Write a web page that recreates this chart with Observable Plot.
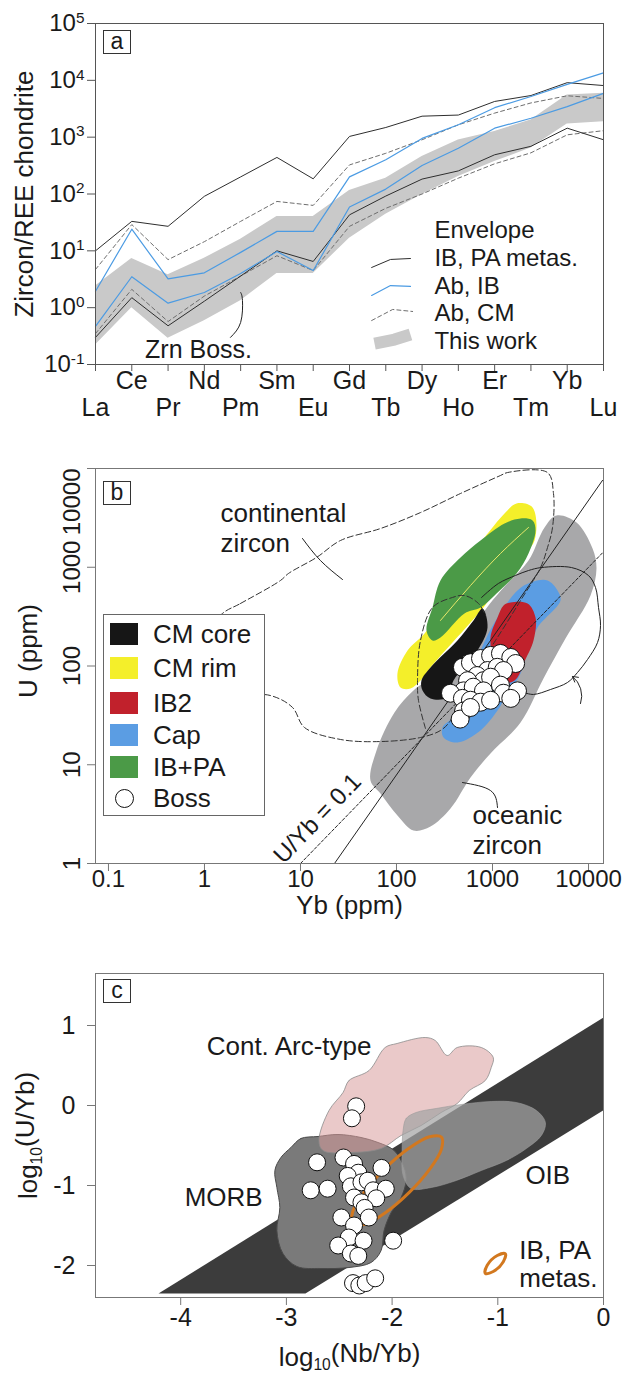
<!DOCTYPE html>
<html><head><meta charset="utf-8">
<script src="https://cdn.jsdelivr.net/npm/d3@7"></script>
<script src="https://cdn.jsdelivr.net/npm/@observablehq/plot@0.6"></script>
<style>
body{margin:0;background:#fff;}
#wrap{position:relative;width:633px;height:1376px;font-family:"Liberation Sans",Arial,sans-serif;color:#1a1a1a;overflow:hidden;}
.panel{position:absolute;left:0;}
.panel svg{overflow:visible;}
.lab{position:absolute;width:26px;height:22px;border:1px solid #333;font-size:23px;line-height:21px;text-align:center;background:#fff;}
.legb{position:absolute;border:1px solid #666;background:#fff;}
.legb .sw{position:absolute;left:6px;width:28px;height:22px;}
.legb .tx{position:absolute;left:49px;font-size:26px;line-height:30px;white-space:nowrap;}
.legb .ci{position:absolute;left:11px;width:17px;height:17px;border:1px solid #111;border-radius:50%;background:#fff;}
</style></head><body>
<div id="wrap">
  <div class="panel" id="pa" style="top:0"></div>
  <div class="panel" id="pb" style="top:430px"></div>
  <div class="panel" id="pc" style="top:930px"></div>
  <div class="lab" style="left:103px;top:30px">a</div>
  <div class="lab" style="left:103px;top:481px">b</div>
  <div class="lab" style="left:103px;top:979px">c</div>
  <div class="legb" id="legb" style="left:103px;top:614px;width:160px;height:200px"></div>
</div>
<script>
// ---------- Panel a data (chondrite-normalised REE) ----------
const elements = ["La","Ce","Pr","Nd","Pm","Sm","Eu","Gd","Tb","Dy","Ho","Er","Tm","Yb","Lu"];
const ibpaUpper = [10,33,27,91,200,440,185,1030,1480,2340,2450,4250,5400,9100,8100];
const ibpaLower = [0.3,1.5,0.48,1.3,3.6,10,6.5,43,92,183,255,490,690,1440,900];
const abIbUpper = [1.95,24,3.2,4.1,9.4,22,22,200,400,950,1650,3300,5200,8500,13500];
const abIbLower = [0.47,3.5,1.2,1.85,4,9.7,4.5,59,122,318,640,1440,2150,3450,5900];
const abCmUpper = [4.7,29,7,14.5,33,74,63,325,520,900,1650,2650,4000,5350,4800];
const abCmLower = [0.35,2.1,0.57,1.6,3.6,8.2,4.5,27,56,100,190,340,530,1100,1300];
const thisWorkUpper = [2.4,7.3,3.8,7.4,16,40,40,115,190,457,890,1260,2000,5500,5900];
const thisWorkLower = [0.22,1.0,0.29,0.59,1.32,4.0,4.0,16.6,44,98,204,372,645,1700,1860];
const yTicksA = [0.1,1,10,100,1000,10000,100000];
const legendTextA = [
  {t:"Envelope", x:9.34, y:22.8},
  {t:"IB, PA metas.", x:9.34, y:7.33},
  {t:"Ab, IB", x:9.34, y:2.36},
  {t:"Ab, CM", x:9.34, y:0.79},
  {t:"This work", x:9.34, y:0.254}
];
const legSampleIbpa = [[7.61,5.09],[8.13,7.05],[8.68,7.33]];
const legSampleAbIb = [[7.61,1.64],[8.13,2.45],[8.68,2.36]];
const legSampleAbCm = [[7.61,0.594],[8.19,0.93],[8.74,0.857]];
const legSampleThis = [[7.69,0.234],[8.24,0.275],[8.68,0.337]];
const zrnBossLabel = [{t:"Zrn Boss.", x:2.84, y:0.18}];
const zrnBossLeader = [[3.72,0.3],[4.0,0.55],[4.05,1.34],[4.0,1.85]];

// ---------- Panel b data (log10 Yb, log10 U) ----------
const xTicksB = [0.1,1,10,100,1000,10000];
const yTicksB = [1,10,100,1000,10000];
const oceanicLog = [[3.667,3.524],[3.875,3.453],[4.042,3.19],[4.083,2.987],[4.021,2.714],[3.76,2.278],[3.531,1.873],[3.292,1.428],[2.979,1.114],[2.771,0.871],[2.5625,0.557],[2.354,0.375],[2.177,0.334],[2.01,0.486],[1.833,0.709],[1.729,0.841],[1.792,1.144],[1.979,1.529],[2.177,1.752],[2.458,1.954],[2.771,2.359],[2.958,2.613],[3.135,2.815],[3.375,3.068],[3.542,3.403]];
const capLog = [[3.573,2.866],[3.677,2.765],[3.708,2.663],[3.469,2.39],[3.365,2.157],[3.292,1.924],[3.115,1.651],[3.052,1.549],[2.875,1.347],[2.635,1.225],[2.49,1.276],[2.479,1.377],[2.635,1.519],[2.698,1.681],[2.875,2.157],[3.052,2.491],[3.26,2.765],[3.396,2.846]];
const ib2Log = [[3.115,2.613],[3.1875,2.643],[3.365,2.633],[3.448,2.491],[3.427,2.258],[3.323,2.025],[3.26,1.884],[3.1875,1.833],[3.083,1.853],[3.01,2.056],[2.979,2.289],[3.052,2.491]];
const cmCoreLog = [[2.896,2.582],[2.948,2.39],[2.844,2.157],[2.698,1.985],[2.594,1.853],[2.531,1.681],[2.354,1.671],[2.271,1.752],[2.26,1.853],[2.354,1.985],[2.635,2.258],[2.802,2.461]];
const cmRimLog = [[3.25,3.646],[3.417,3.605],[3.4375,3.271],[3.26,3.068],[2.979,2.694],[2.906,2.592],[2.354,1.985],[2.25,1.853],[2.146,1.772],[2.042,1.782],[2.01,1.924],[2.115,2.157],[2.292,2.329],[2.458,2.562],[2.542,2.734],[2.708,3.038],[2.917,3.301],[3.125,3.544]];
const ibpaFieldLog = [[3.292,3.494],[3.417,3.473],[3.448,3.372],[3.375,3.139],[3.25,2.937],[3.042,2.734],[2.875,2.592],[2.708,2.532],[2.458,2.289],[2.375,2.258],[2.3125,2.359],[2.375,2.592],[2.458,2.866],[2.667,3.099],[2.875,3.271],[3.125,3.443]];
const rimInnerLog = [[2.458,2.461],[2.771,2.815],[3.083,3.139],[3.375,3.403]];
const continentalLog = [[0.1875,2.532],[0.375,2.633],[0.792,2.866],[0.875,2.937],[1.167,3.099],[1.417,3.271],[1.833,3.392],[2.25,3.554],[2.667,3.747],[3.083,3.929],[3.156,3.959],[3.573,3.959],[3.635,3.747],[3.625,3.403],[3.573,3.2],[3.5,2.997],[3.292,2.663],[3.031,2.258],[2.823,1.954],[2.667,1.701],[2.5625,1.448],[2.458,1.347],[2.25,1.276],[1.833,1.235],[1.417,1.256],[1.042,1.377],[0.917,1.58],[0.6875,1.701],[-0.04,1.752],[-0.04,2.258]];
const continentalInnerLog = [[2.302,1.367],[2.229,1.651],[2.219,1.853],[2.25,2.258],[2.375,2.592],[2.583,2.694],[2.708,2.714],[2.854,2.633],[2.927,2.511]];
const oceanicOutlineLog = [[2.885,2.693],[3.062,2.836],[3.24,2.917],[3.375,2.967],[3.51,2.997],[3.823,2.997],[4.0,2.916],[4.073,2.795],[4.104,2.593],[4.125,2.41],[4.094,2.238],[3.99,2.066],[3.885,1.934],[3.781,1.833],[3.604,1.762],[3.427,1.712],[3.323,1.732]];
const arrowLog = [{x1:3.917,y1:1.62,x2:3.833,y2:1.894}];
const contLeaderLog = [[1.021,3.291],[1.208,3.068],[1.4375,2.876]];
const oceLeaderLog = [[2.6875,0.82],[2.979,0.739],[3.052,0.567]];
const solidLineYb = [22.6, 14000];
const solidLineU = [1, 7590];
const ratioLineYb = [10, 14000];
const ratioLineU = [1, 1400];
const labelsB = [
  {t:"continental", lx:0.167, ly:3.544},
  {t:"zircon", lx:0.167, ly:3.24},
  {t:"oceanic", lx:2.792, ly:0.486},
  {t:"zircon", lx:2.792, ly:0.182}
];
const ratioLabel = [{t:"U/Yb = 0.1", lx:1.177, ly:0.456}];
const bossYb = [486,589,750,955,1210,1550,1740,887,1120,1300,690,805,955,550,500,630,805,1210,1300,1820,1550,365,486,589,750,955,500,460,589];
const bossU  = [97,108,119,128,134,122,106,90,97,90,80,71,77,71,56,61,56,64,53,56,47,53,47,45,43,45,35,29,38];
const legendB = [
  {t:"CM core", c:"#161616"},
  {t:"CM rim", c:"#f4ef2a"},
  {t:"IB2", c:"#c1212c"},
  {t:"Cap", c:"#5b9de3"},
  {t:"IB+PA", c:"#4b9a47"},
  {t:"Boss", c:null}
];

// ---------- Panel c data (log10 Nb/Yb, log10 U/Yb) ----------
const xTicksC = [-4,-3,-2,-1,0];
const yTicksC = [-2,-1,0,1];
const bandC = [[-4.21,-2.35],[0,1.1],[0,-0.06],[-2.82,-2.35]];
const contArc = [[-2.464,0.1625],[-2.408,0.3125],[-2.218,0.4375],[-2.066,0.725],[-1.953,0.775],[-1.687,0.85],[-1.592,0.8125],[-1.479,0.625],[-1.384,0.725],[-1.156,0.725],[-1.043,0.6],[-1.062,0.475],[-1.118,0.3125],[-1.27,0.1875],[-1.384,0.025],[-1.536,-0.0875],[-1.725,-0.25],[-1.915,-0.375],[-2.104,-0.5375],[-2.389,-0.5875],[-2.654,-0.5625],[-2.692,-0.4375],[-2.597,-0.0625]];
const morb = [[-2.957,-0.525],[-2.863,-0.4125],[-2.701,-0.3875],[-2.512,-0.3625],[-2.294,-0.4],[-2.133,-0.4625],[-1.981,-0.5625],[-1.886,-0.775],[-1.867,-0.9375],[-1.915,-1.15],[-2.009,-1.3375],[-2.076,-1.5625],[-2.104,-1.8125],[-2.199,-1.9625],[-2.408,-2.025],[-2.673,-2.0375],[-2.9,-2.0125],[-3.033,-1.85],[-3.09,-1.5625],[-3.062,-1.275],[-3.09,-1.025],[-3.109,-0.8125],[-3.052,-0.65]];
const oib = [[-1.896,-0.3125],[-1.867,-0.1625],[-1.773,-0.0875],[-1.583,-0.0375],[-1.346,0.0125],[-1.062,0.05],[-0.825,0.0375],[-0.635,-0.0625],[-0.55,-0.2125],[-0.588,-0.375],[-0.73,-0.5375],[-0.919,-0.6875],[-1.156,-0.8125],[-1.393,-0.9375],[-1.63,-1.025],[-1.82,-1.0375],[-1.896,-0.875],[-1.905,-0.5625]];
const metasEllipse = [[-1.534,-0.394],[-1.533,-0.544],[-1.646,-0.798],[-1.84,-1.089],[-2.064,-1.34],[-2.259,-1.484],[-2.372,-1.481],[-2.373,-1.331],[-2.26,-1.078],[-2.065,-0.786],[-1.841,-0.535],[-1.646,-0.391]];
const legendEllipse = [[-0.929,-1.853],[-0.948,-1.953],[-1.043,-2.075],[-1.118,-2.098],[-1.1,-1.998],[-1.005,-1.875]];
const bossNbYb = [-2.34,-2.38,-2.71,-2.46,-2.36,-2.32,-2.42,-2.10,-2.77,-2.61,-2.39,-2.29,-2.23,-2.18,-2.06,-2.36,-2.29,-2.15,-2.26,-2.22,-2.48,-2.36,-2.41,-2.27,-2.51,-2.39,-2.32,-1.99,-2.37,-2.31,-2.25,-2.16];
const bossUYb  = [-0.01,-0.16,-0.71,-0.65,-0.73,-0.84,-0.88,-0.78,-1.06,-1.04,-1.01,-0.96,-0.94,-1.06,-1.04,-1.15,-1.21,-1.16,-1.28,-1.40,-1.40,-1.50,-1.65,-1.69,-1.75,-1.85,-1.88,-1.69,-2.22,-2.25,-2.22,-2.16];
const labelsC = [
  {t:"Cont. Arc-type", x:-3.754, y:0.74},
  {t:"MORB", x:-3.962, y:-1.15},
  {t:"OIB", x:-0.739, y:-0.875},
  {t:"IB, PA", x:-0.796, y:-1.81},
  {t:"metas.", x:-0.796, y:-2.16}
];

// ---------- helpers ----------
const FONT = '"Liberation Sans", Arial, sans-serif';
const NS = "http://www.w3.org/2000/svg";
function fixText(svg){
  svg.querySelectorAll("text").forEach(t=>{
    const s = t.textContent;
    let m;
    if (s.includes("^")) {
      const [b,e] = s.split("^");
      t.textContent = "";
      const a1 = document.createElementNS(NS,"tspan"); a1.textContent = b; t.appendChild(a1);
      const a2 = document.createElementNS(NS,"tspan"); a2.textContent = e;
      a2.setAttribute("dy","-0.55em"); a2.setAttribute("font-size","0.64em"); t.appendChild(a2);
    } else if ((m = s.match(/^(.*)\{(.*)\}(.*)$/))) {
      t.textContent = "";
      const a1 = document.createElementNS(NS,"tspan"); a1.textContent = m[1]; t.appendChild(a1);
      const a2 = document.createElementNS(NS,"tspan"); a2.textContent = m[2];
      a2.setAttribute("dy","0.3em"); a2.setAttribute("font-size","0.6em"); t.appendChild(a2);
      const a3 = document.createElementNS(NS,"tspan"); a3.textContent = m[3];
      a3.setAttribute("dy","-0.3em"); t.appendChild(a3);
    }
  });
  return svg;
}
const styleBase = {fontFamily: FONT, color: "#1a1a1a", background: "transparent", overflow: "visible"};

// ---------- Panel a ----------
const tblA = elements.map((el,i)=>({i, el,
  lo: thisWorkLower[i], hi: thisWorkUpper[i],
  ibU: ibpaUpper[i], ibL: ibpaLower[i],
  abibU: abIbUpper[i], abibL: abIbLower[i],
  abcmU: abCmUpper[i], abcmL: abCmLower[i]}));
const P = d => ({x: d[0], y: d[1]});
const plotA = Plot.plot({
  width: 633, height: 430, marginTop: 23, marginBottom: 66, marginLeft: 95, marginRight: 30,
  style: styleBase,
  x: {domain: [0, 14], axis: null},
  y: {type: "log", domain: [0.1, 1e5], axis: null},
  marks: [
    Plot.areaY(tblA, {x: "i", y1: "lo", y2: "hi", fill: "#c9c9c9"}),
    Plot.line(tblA, {x: "i", y: "abcmU", stroke: "#6e6e6e", strokeWidth: 1, strokeDasharray: "4,3"}),
    Plot.line(tblA, {x: "i", y: "abcmL", stroke: "#6e6e6e", strokeWidth: 1, strokeDasharray: "4,3"}),
    Plot.line(tblA, {x: "i", y: "ibU", stroke: "#2e2e2e", strokeWidth: 1}),
    Plot.line(tblA, {x: "i", y: "ibL", stroke: "#2e2e2e", strokeWidth: 1}),
    Plot.line(tblA, {x: "i", y: "abibU", stroke: "#4b9be3", strokeWidth: 1.2}),
    Plot.line(tblA, {x: "i", y: "abibL", stroke: "#4b9be3", strokeWidth: 1.2}),
    // legend
    Plot.line(legSampleThis.map(P), {x: "x", y: "y", stroke: "#c9c9c9", strokeWidth: 12, strokeLinecap: "butt"}),
    Plot.line(legSampleIbpa.map(P), {x: "x", y: "y", stroke: "#2e2e2e", strokeWidth: 1}),
    Plot.line(legSampleAbIb.map(P), {x: "x", y: "y", stroke: "#4b9be3", strokeWidth: 1.2}),
    Plot.line(legSampleAbCm.map(P), {x: "x", y: "y", stroke: "#6e6e6e", strokeWidth: 1, strokeDasharray: "4,3"}),
    Plot.text(legendTextA, {x: "x", y: "y", text: "t", textAnchor: "start", fontSize: 24}),
    // annotation
    Plot.line(zrnBossLeader.map(P), {x: "x", y: "y", stroke: "#222", strokeWidth: 1, curve: "natural"}),
    Plot.text(zrnBossLabel, {x: "x", y: "y", text: "t", fontSize: 25}),
    Plot.frame({stroke: "#555"}),
    // axes
    Plot.axisY(yTicksA, {tickSize: 8, tickFormat: () => "", stroke: "#555", label: null}),
    Plot.text(yTicksA, {y: d => d, text: d => "10^" + Math.round(Math.log10(d)), frameAnchor: "left", dx: -11, textAnchor: "end", fontSize: 24}),
    Plot.axisX(elements.map((d,i)=>i), {tickSize: 7, tickFormat: () => "", stroke: "#555", label: null}),
    Plot.text(elements, {filter: (d,i) => i % 2 === 1, x: (d,i) => i, text: d => d, frameAnchor: "bottom", dy: 24, fontSize: 25, textAnchor: "middle"}),
    Plot.text(elements, {filter: (d,i) => i % 2 === 0, x: (d,i) => i, text: d => d, frameAnchor: "bottom", dy: 51, fontSize: 25, textAnchor: "middle"}),
    Plot.text(["Zircon/REE chondrite"], {frameAnchor: "left", dx: -71, rotate: -90, fontSize: 26, textAnchor: "middle"})
  ]
});
document.getElementById("pa").appendChild(fixText(plotA));

// ---------- Panel b ----------
const L = d => ({x: 10 ** d[0], y: 10 ** d[1]});
const polyB = (arr, fill) => Plot.line(arr.map(L), {x: "x", y: "y", fill, stroke: "none", curve: "catmull-rom-closed"});
const plotB = Plot.plot({
  width: 633, height: 500, marginTop: 38, marginBottom: 67, marginLeft: 95, marginRight: 30,
  style: styleBase,
  x: {type: "log", domain: [10 ** -1.135, 10 ** 4.156], axis: null},
  y: {type: "log", domain: [1, 10000], axis: null},
  marks: [
    polyB(oceanicLog, "#a8a8aa"),
    polyB(capLog, "#5b9de3"),
    polyB(ib2Log, "#c1212c"),
    polyB(cmRimLog, "#f4ef2a"),
    polyB(ibpaFieldLog, "#4b9a47"),
    polyB(cmCoreLog, "#161616"),
    Plot.line(rimInnerLog.map(L), {x: "x", y: "y", stroke: "#e8e86a", strokeWidth: 1, curve: "natural"}),
    Plot.line(solidLineYb.map((d,i)=>({x: d, y: solidLineU[i]})), {x: "x", y: "y", stroke: "#222", strokeWidth: 1}),
    Plot.line(ratioLineYb.map((d,i)=>({x: d, y: ratioLineU[i]})), {x: "x", y: "y", stroke: "#222", strokeWidth: 1, strokeDasharray: "3,2"}),
    Plot.line(continentalLog.map(L), {x: "x", y: "y", stroke: "#333", strokeWidth: 1, strokeDasharray: "6,3", curve: "catmull-rom-closed"}),
    Plot.line(continentalInnerLog.map(L), {x: "x", y: "y", stroke: "#333", strokeWidth: 1, strokeDasharray: "6,3", curve: "catmull-rom"}),
    Plot.line(oceanicOutlineLog.map(L), {x: "x", y: "y", stroke: "#222", strokeWidth: 1, curve: "catmull-rom"}),
    Plot.line(contLeaderLog.map(L), {x: "x", y: "y", stroke: "#222", strokeWidth: 1, curve: "natural"}),
    Plot.line(oceLeaderLog.map(L), {x: "x", y: "y", stroke: "#222", strokeWidth: 1, curve: "natural"}),
    Plot.arrow(arrowLog, {x1: d => 10 ** d.x1, y1: d => 10 ** d.y1, x2: d => 10 ** d.x2, y2: d => 10 ** d.y2, bend: -35, stroke: "#222", strokeWidth: 1, headLength: 9}),
    Plot.dot(bossYb.map((d,i)=>({x: d, y: bossU[i]})), {x: "x", y: "y", r: 9, fill: "white", stroke: "#111", strokeWidth: 1}),
    Plot.text(labelsB, {x: d => 10 ** d.lx, y: d => 10 ** d.ly, text: "t", textAnchor: "start", fontSize: 26}),
    Plot.text(ratioLabel, {x: d => 10 ** d.lx, y: d => 10 ** d.ly, text: "t", rotate: -46, fontSize: 24, textAnchor: "middle"}),
    Plot.frame({stroke: "#777"}),
    Plot.axisX(xTicksB, {tickSize: 8, tickFormat: () => "", stroke: "#777", label: null}),
    Plot.text(xTicksB, {x: d => d, text: d => String(d), frameAnchor: "bottom", dy: 23, fontSize: 24, textAnchor: "middle"}),
    Plot.axisY(yTicksB, {tickSize: 8, tickFormat: () => "", stroke: "#777", label: null}),
    Plot.text(yTicksB.filter(d => d < 10000), {y: d => d, text: d => String(d), frameAnchor: "left", dx: -23, rotate: -90, fontSize: 24, textAnchor: "middle"}),
    Plot.text(yTicksB.filter(d => d >= 10000), {y: d => d, text: d => String(d), frameAnchor: "left", dx: -23, rotate: -90, textAnchor: "end", fontSize: 24}),
    Plot.text(["Yb (ppm)"], {frameAnchor: "bottom", dy: 50, fontSize: 26, textAnchor: "middle"}),
    Plot.text(["U (ppm)"], {frameAnchor: "left", dx: -67, dy: -15, rotate: -90, fontSize: 26, textAnchor: "middle"})
  ]
});
document.getElementById("pb").appendChild(fixText(plotB));

// legend b (HTML overlay)
const legEl = document.getElementById("legb");
const rowY = [19, 53, 88, 120, 152, 183];
legendB.forEach((d, i) => {
  if (d.c) {
    const s = document.createElement("div"); s.className = "sw"; s.style.top = (rowY[i] - 11) + "px"; s.style.background = d.c; legEl.appendChild(s);
  } else {
    const s = document.createElement("div"); s.className = "ci"; s.style.top = (rowY[i] - 9) + "px"; legEl.appendChild(s);
  }
  const t = document.createElement("div"); t.className = "tx"; t.style.top = (rowY[i] - 15) + "px"; t.textContent = d.t; legEl.appendChild(t);
});

// ---------- Panel c ----------
const polyC = (arr, opts) => Plot.line(arr.map(P), Object.assign({x: "x", y: "y", curve: "catmull-rom-closed"}, opts));
const plotC = Plot.plot({
  width: 633, height: 446, marginTop: 43, marginBottom: 79, marginLeft: 95, marginRight: 30,
  style: styleBase,
  x: {domain: [-4.806, 0], axis: null},
  y: {domain: [-2.4, 1.65], axis: null},
  marks: [
    Plot.line(bandC.map(P), {x: "x", y: "y", fill: "#3c3c3c", stroke: "none", curve: "linear-closed"}),
    polyC(morb, {fill: "#7a7a7a", stroke: "#4a4a4a", strokeWidth: 1}),
    polyC(contArc, {fill: "#d99c9c", fillOpacity: 0.55, stroke: "#8c8c8c", strokeWidth: 0.8}),
    polyC(oib, {fill: "#a4a4a4", fillOpacity: 0.72, stroke: "#9a9a9a", strokeWidth: 0.6}),
    polyC(metasEllipse, {fill: "none", stroke: "#d2781f", strokeWidth: 3}),
    polyC(legendEllipse, {fill: "none", stroke: "#d2781f", strokeWidth: 3}),
    Plot.dot(bossNbYb.map((d,i)=>({x: d, y: bossUYb[i]})), {x: "x", y: "y", r: 8.5, fill: "white", stroke: "#111", strokeWidth: 1}),
    Plot.text(labelsC, {x: "x", y: "y", text: "t", textAnchor: "start", fontSize: 26}),
    Plot.frame({stroke: "#777"}),
    Plot.axisX(xTicksC, {tickSize: 8, tickFormat: () => "", stroke: "#777", label: null}),
    Plot.text(xTicksC, {x: d => d, text: d => String(d), frameAnchor: "bottom", dy: 28, fontSize: 25, textAnchor: "middle"}),
    Plot.axisY(yTicksC, {tickSize: 8, tickFormat: () => "", stroke: "#777", label: null}),
    Plot.text(yTicksC, {y: d => d, text: d => String(d), frameAnchor: "left", dx: -20, textAnchor: "end", fontSize: 25}),
    Plot.text(["log{10}(Nb/Yb)"], {frameAnchor: "bottom", dy: 68, fontSize: 26, textAnchor: "middle"}),
    Plot.text(["log{10}(U/Yb)"], {frameAnchor: "left", dx: -67, rotate: -90, fontSize: 26, textAnchor: "middle"})
  ]
});
document.getElementById("pc").appendChild(fixText(plotC));
</script>
</body></html>
